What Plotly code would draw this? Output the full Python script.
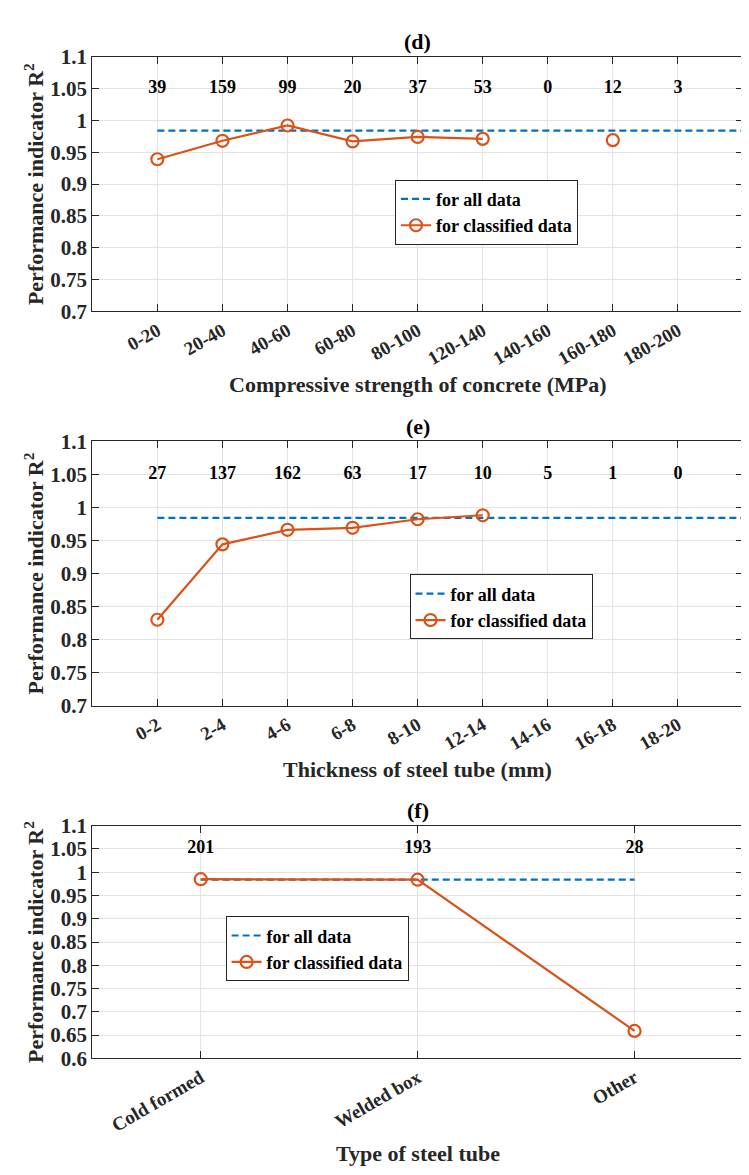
import plotly.graph_objects as go

# ---- data ----
cats_d = ["0-20", "20-40", "40-60", "60-80", "80-100", "120-140", "140-160", "160-180", "180-200"]
counts_d = [39, 159, 99, 20, 37, 53, 0, 12, 3]
r2_d = [0.939, 0.968, 0.992, 0.967, 0.974, 0.971, None, 0.969, None]

cats_e = ["0-2", "2-4", "4-6", "6-8", "8-10", "12-14", "14-16", "16-18", "18-20"]
counts_e = [27, 137, 162, 63, 17, 10, 5, 1, 0]
r2_e = [0.830, 0.944, 0.966, 0.969, 0.982, 0.988, None, None, None]

cats_f = ["Cold formed", "Welded box", "Other"]
counts_f = [201, 193, 28]
r2_f = [0.985, 0.984, 0.659]

r2_all = 0.984
count_label_y = 1.05

BLUE = "#0072BD"
ORANGE = "#D95319"
AX = "#262626"
GRID = "#e3e3e3"
FONT = "Liberation Serif"
W, H = 749, 1175
X0, X1 = 84.3, 735.0


def fx(px):
    return px / W


def fy(py):
    return 1 - py / H


fig = go.Figure()

panels = [
    dict(cats=cats_d, counts=counts_d, r2=r2_d, xr=[0, 10], all_x=[1, 10], yr=[0.7, 1.1],
         title="(d)", xtitle="Compressive strength of concrete (MPa)",
         top=37.5, bot=297.5, xt_y=371.7, leg=(387, 163)),
    dict(cats=cats_e, counts=counts_e, r2=r2_e, xr=[0, 10], all_x=[1, 10], yr=[0.7, 1.1],
         title="(e)", xtitle="Thickness of steel tube (mm)",
         top=430, bot=700, xt_y=765, leg=(401.5, 566)),
    dict(cats=cats_f, counts=counts_f, r2=r2_f, xr=[0.5, 3.5], all_x=[1, 3], yr=[0.6, 1.1],
         title="(f)", xtitle="Type of steel tube",
         top=822.5, bot=1060, xt_y=1157, leg=(217.6, 915)),
]

layout = {}
for i, p in enumerate(panels):
    n = i + 1
    xa = "x" if n == 1 else f"x{n}"
    ya = "y" if n == 1 else f"y{n}"
    lg = "legend" if n == 1 else f"legend{n}"
    xs = list(range(1, len(p["cats"]) + 1))
    fig.add_trace(go.Scatter(x=p["all_x"], y=[r2_all] * 2, mode="lines",
                             line=dict(color=BLUE, width=2.2, dash="7px,4px"),
                             name="for all data", xaxis=xa, yaxis=ya, legend=lg))
    fig.add_trace(go.Scatter(x=xs, y=p["r2"], mode="lines+markers",
                             line=dict(color=ORANGE, width=2.2),
                             marker=dict(symbol="circle-open", size=12, color=ORANGE,
                                         line=dict(width=2.2, color=ORANGE)),
                             connectgaps=False,
                             name="for classified data", xaxis=xa, yaxis=ya, legend=lg))
    fig.add_trace(go.Scatter(x=xs, y=[count_label_y] * len(xs), mode="text",
                             text=[str(c) for c in p["counts"]],
                             textfont=dict(family=FONT, size=18, color="black", weight="bold"),
                             showlegend=False, hoverinfo="skip", xaxis=xa, yaxis=ya))
    layout["xaxis" if n == 1 else f"xaxis{n}"] = dict(
        domain=[fx(X0), fx(X1)], range=p["xr"], tickmode="array", tickvals=xs,
        ticktext=p["cats"], tickangle=-30, anchor=ya,
        showgrid=True, gridcolor=GRID, gridwidth=1,
        showline=True, linecolor=AX, linewidth=1, mirror="ticks",
        ticks="inside", ticklen=7, tickcolor=AX,
        tickfont=dict(family=FONT, size=19, color=AX, weight="bold"),
        zeroline=False)
    layout["yaxis" if n == 1 else f"yaxis{n}"] = dict(
        domain=[fy(p["bot"]), fy(p["top"])], range=p["yr"], dtick=0.05, tick0=0, anchor=xa,
        showgrid=True, gridcolor=GRID, gridwidth=1,
        showline=True, linecolor=AX, linewidth=1, mirror="ticks",
        ticks="inside", ticklen=7, tickcolor=AX,
        tickfont=dict(family=FONT, size=21, color=AX, weight="bold"),
        zeroline=False)
    layout[lg] = dict(x=fx(p["leg"][0]), y=fy(p["leg"][1]), xanchor="left", yanchor="top",
                      xref="paper", yref="paper",
                      bgcolor="white", bordercolor=AX, borderwidth=1,
                      font=dict(family=FONT, size=18, color="black", weight="bold"),
                      itemwidth=30, tracegroupgap=0)
    # panel title
    fig.add_annotation(text=p["title"], x=fx((X0 + X1) / 2), y=fy(p["top"] - 15.5),
                       xref="paper", yref="paper", xanchor="center", yanchor="middle",
                       showarrow=False, font=dict(family=FONT, size=22, color="black", weight="bold"))
    # x title
    fig.add_annotation(text=p["xtitle"], x=fx((X0 + X1) / 2), y=fy(p["xt_y"]),
                       xref="paper", yref="paper", xanchor="center", yanchor="middle",
                       showarrow=False, font=dict(family=FONT, size=22, color=AX, weight="bold"))
    # y title
    fig.add_annotation(text="Performance indicator R<sup>2</sup>", x=fx(26),
                       y=fy((p["top"] + p["bot"]) / 2),
                       xref="paper", yref="paper", xanchor="center", yanchor="middle",
                       textangle=-90, showarrow=False,
                       font=dict(family=FONT, size=22, color=AX, weight="bold"))

fig.update_layout(width=W, height=H, margin=dict(l=0, r=0, t=0, b=0),
                  plot_bgcolor="white", paper_bgcolor="white",
                  font=dict(family=FONT, size=16, color=AX),
                  **layout)

fig.write_html("out.html")
